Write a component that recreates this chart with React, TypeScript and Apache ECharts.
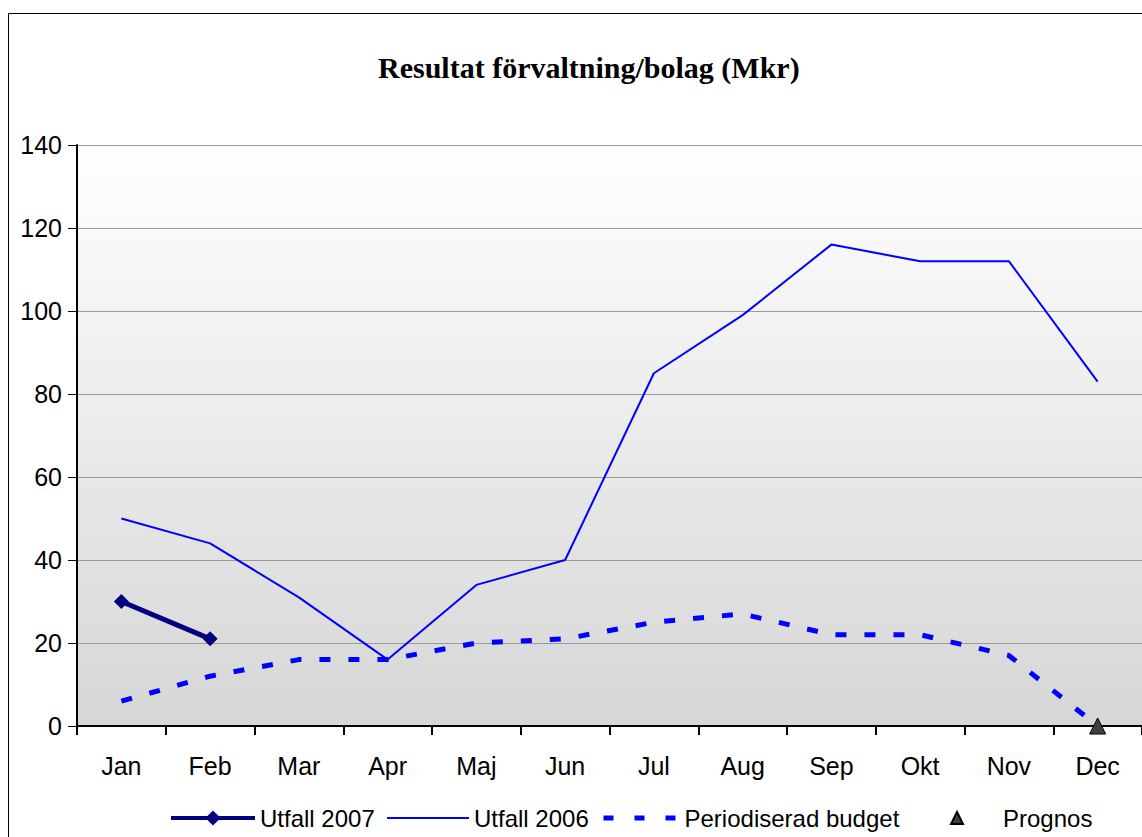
import React, { useEffect, useRef } from "react";
import * as echarts from "echarts";

const months = ["Jan", "Feb", "Mar", "Apr", "Maj", "Jun", "Jul", "Aug", "Sep", "Okt", "Nov", "Dec"];
const utfall2007 = [30, 21, null, null, null, null, null, null, null, null, null, null];
const utfall2006 = [50, 44, 31, 16, 34, 40, 85, 99, 116, 112, 112, 83];
const budget = [6, 12, 16, 16, 20, 21, 25, 27, 22, 22, 17, 0];
const prognos = [null, null, null, null, null, null, null, null, null, null, null, 0];
const yTicks = { min: 0, max: 140, interval: 20 };

export default function App() {
  const ref = useRef<HTMLDivElement>(null);
  useEffect(() => {
    const chart = echarts.init(ref.current!, null, { renderer: "svg" });
    const legendText = { fontFamily: "Liberation Sans", fontSize: 24, color: "#000" };
    const legendBase = { top: 806, padding: 0, itemHeight: 14, textStyle: legendText };
    chart.setOption({
      animation: false,
      backgroundColor: "#fff",
      title: {
        text: "Resultat förvaltning/bolag (Mkr)",
        left: 378,
        top: 52,
        padding: 0,
        textStyle: { fontFamily: "Liberation Serif", fontWeight: "bold", fontSize: 30, color: "#000" },
      },
      graphic: [
        {
          type: "rect",
          shape: { x: 8.5, y: 13.5, width: 1200, height: 900 },
          style: { fill: "none", stroke: "#000", lineWidth: 1 },
          silent: true,
          z: -1,
        },
      ],
      legend: [
        {
          ...legendBase,
          data: ["Utfall 2007"],
          left: 169,
          top: 806,
          itemWidth: 84,
          itemHeight: 19,
          lineStyle: { width: 4 },
        },
        {
          ...legendBase,
          data: [{ name: "Utfall 2006", itemStyle: { opacity: 0 } }],
          left: 386,
          itemWidth: 82,
        },
        {
          ...legendBase,
          data: [{ name: "Periodiserad budget", itemStyle: { opacity: 0 } }],
          left: 601,
          itemWidth: 76,
          lineStyle: { type: [10, 21], width: 5, cap: "butt" },
        },
        {
          ...legendBase,
          data: ["Prognos"],
          left: 949,
          itemWidth: 16,
          itemHeight: 15,
          textStyle: { ...legendText, padding: [0, 0, 0, 33] },
        },
      ],
      grid: {
        left: 77,
        top: 145,
        right: 0,
        bottom: 837 - 726,
        show: true,
        borderWidth: 0,
        backgroundColor: new echarts.graphic.LinearGradient(0, 0, 0, 1, [
          { offset: 0, color: "#ffffff" },
          { offset: 1, color: "#d6d6d6" },
        ]),
      },
      xAxis: {
        type: "category",
        data: months,
        boundaryGap: true,
        axisLine: { lineStyle: { color: "#000", width: 2 } },
        axisTick: { show: true, length: 9, lineStyle: { color: "#000", width: 2 } },
        axisLabel: { fontFamily: "Liberation Sans", fontSize: 25, color: "#000", margin: 27 },
        splitLine: { show: false },
      },
      yAxis: {
        type: "value",
        min: yTicks.min,
        max: yTicks.max,
        interval: yTicks.interval,
        axisLine: { show: true, lineStyle: { color: "#000", width: 2 } },
        axisTick: { show: true, length: 9, lineStyle: { color: "#000", width: 1 } },
        axisLabel: { fontFamily: "Liberation Sans", fontSize: 25, color: "#000", margin: 15 },
        splitLine: { show: true, lineStyle: { color: "#9a9a9a", width: 1 } },
      },
      series: [
        {
          name: "Utfall 2007",
          type: "line",
          data: utfall2007,
          symbol: "diamond",
          symbolSize: 15,
          lineStyle: { color: "#000080", width: 5 },
          itemStyle: { color: "#000080" },
          z: 5,
        },
        {
          name: "Utfall 2006",
          type: "line",
          data: utfall2006,
          symbol: "none",
          lineStyle: { color: "#0000ff", width: 2 },
          itemStyle: { color: "#0000ff" },
          z: 4,
        },
        {
          name: "Periodiserad budget",
          type: "line",
          data: budget,
          symbol: "none",
          lineStyle: { color: "#0000ff", width: 5, type: [11, 18], cap: "butt" },
          itemStyle: { color: "#0000ff" },
          z: 3,
        },
        {
          name: "Prognos",
          type: "line",
          data: prognos,
          symbol: "triangle",
          symbolSize: [16, 16],
          showSymbol: true,
          clip: false,
          lineStyle: { width: 0 },
          itemStyle: { color: "#404040", borderColor: "#000", borderWidth: 1 },
          z: 6,
        },
      ],
    });
    return () => chart.dispose();
  }, []);
  return <div ref={ref} style={{ position: "fixed", left: 0, top: 0, width: 1142, height: 837 }} />;
}
